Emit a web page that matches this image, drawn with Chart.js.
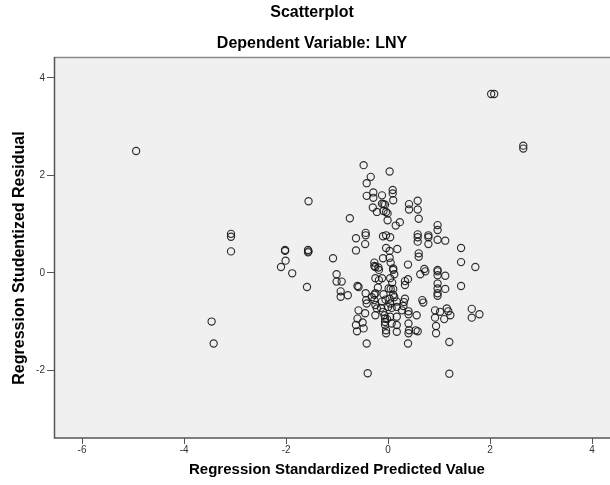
<!DOCTYPE html>
<html><head><meta charset="utf-8">
<script src="https://cdn.jsdelivr.net/npm/chart.js@4/dist/chart.umd.min.js"></script>
<style>html,body{margin:0;padding:0;background:#fff;}canvas{display:block;}</style>
</head><body>
<canvas id="c" width="610" height="485"></canvas>
<script>
const chartTitle = 'Scatterplot';
const chartSubtitle = 'Dependent Variable: LNY';
const xAxisTitle = 'Regression Standardized Predicted Value';
const yAxisTitle = 'Regression Studentized Residual';
const xTicks = [-6, -4, -2, 0, 2, 4];
const yTicks = [-2, 0, 2, 4];

// Regression Standardized Predicted Value
const predicted = [
  -4.94, 2.02, 2.08, 2.65, 2.65, -3.08, -3.08, -3.08, -3.46, -3.42,
  -2.02, -2.02, -2.01, -2.10, -1.88, -1.57, -1.56, -1.57, -1.59, -1.56,
  -0.48, 0.03, -0.34, -0.42, -0.42, -0.29, -0.29, -0.12, 0.09, 0.09,
  0.10, -0.12, -0.09, -0.06, -0.30, -0.22, -0.09, -0.04, -0.01, -0.01,
  -0.75, 0.15, 0.23, -0.44, -0.44, -0.63, -0.45, -0.63, -0.10, -0.04,
  0.04, -0.04, 0.03, 0.18, -1.08, -0.10, 0.03, -0.27, -0.27, -0.19,
  0.05, 0.10,
  0.41, 0.41, 0.58, 0.58, 0.60, 0.97, 0.97, 0.58, 0.58, 0.58,
  0.79, 0.79, 0.79, 0.97, 1.12, 1.43, 1.43, 1.71, 0.60, 0.60,
  0.39, 0.71, 0.97,
  -1.01, -1.01, -0.91, -0.93, -0.93, -0.79, -0.60, -0.58, -0.44, -0.25,
  -0.18, -0.25, -0.18, -0.12, 0.04, 0.10, 0.12, 0.01, 0.05, 0.10,
  -0.09, -0.25, -0.43, -0.42, -0.27, -0.25, -0.22, -0.12, -0.14, 0.03,
  0.04, 0.07, 0.17, 0.17, -0.58, -0.45, -0.25, -0.07, -0.06, -0.06,
  -0.06, -0.04, -0.04, 0.04, 0.07, 0.17, 0.17, 0.17, -0.60, -0.63,
  -0.61, -0.50, -0.48, -0.42, -0.40,
  0.73, 0.63, 0.97, 0.97, 1.12, 1.43, 0.97, 0.97, 0.97, 0.97,
  1.12, 0.33, 0.33, 0.39, 0.33, 0.31, 0.30, 0.67, 0.69, 0.27,
  0.40, 0.40, 0.56, 0.40, 0.41, 0.40, 0.54, 0.58, 0.39, 0.92,
  1.02, 1.15, 1.18, 1.22, 0.92, 1.10, 0.94, 0.94, 1.64, 1.64,
  1.79, 1.20, 1.20,
  -0.27, -0.05, 0.00, -0.10, 0.10, -0.20, 0.08, -0.32, -0.02, 0.12
];

// Regression Studentized Residual
const residual = [
  2.50, 3.67, 3.67, 2.61, 2.55, 0.80, 0.74, 0.44, -1.00, -1.45,
  0.47, 0.45, 0.25, 0.12, -0.01, 0.47, 0.44, 0.42, -0.29, 1.47,
  2.21, 2.08, 1.97, 1.84, 1.58, 1.65, 1.54, 1.59, 1.70, 1.63,
  1.49, 1.42, 1.41, 1.40, 1.34, 1.25, 1.27, 1.25, 1.22, 1.08,
  1.12, 0.97, 1.04, 0.82, 0.77, 0.71, 0.59, 0.46, 0.75, 0.77,
  0.73, 0.51, 0.45, 0.49, 0.30, 0.30, 0.31, 0.21, 0.14, 0.11,
  0.21, 0.09,
  1.41, 1.30, 1.48, 1.30, 1.11, 0.98, 0.88, 0.79, 0.73, 0.64,
  0.77, 0.73, 0.59, 0.68, 0.66, 0.51, 0.22, 0.12, 0.40, 0.33,
  0.17, 0.08, 0.06,
  -0.03, -0.18, -0.18, -0.38, -0.49, -0.46, -0.27, -0.29, -0.42, 0.12,
  0.06, -0.11, -0.15, -0.11, -0.11, 0.06, -0.03, -0.32, -0.33, -0.33,
  -0.44, -0.42, -0.56, -0.63, -0.56, -0.66, -0.73, -0.59, -0.72, -0.53,
  -0.63, -0.72, -0.59, -0.70, -0.77, -0.83, -0.87, -0.87, -0.94, -1.01,
  -1.07, -1.18, -1.24, -0.90, -1.04, -0.90, -1.07, -1.21, -0.94, -1.07,
  -1.20, -1.02, -1.14, -1.45, -2.06,
  0.03, -0.03, 0.03, -0.05, -0.06, -0.27, -0.22, -0.32, -0.42, -0.47,
  -0.33, -0.17, -0.25, -0.13, -0.53, -0.60, -0.68, -0.56, -0.61, -0.77,
  -0.79, -0.85, -0.87, -1.04, -1.18, -1.24, -1.18, -1.20, -1.45, -0.77,
  -0.80, -0.73, -0.79, -0.87, -0.92, -0.95, -1.09, -1.24, -0.74, -0.92,
  -0.85, -1.42, -2.07,
  -0.45, -0.55, -0.70, -0.80, -0.45, -0.30, -0.20, -0.50, -0.95, -0.50
];

const points = predicted.map((x, i) => ({ x: x, y: residual[i] }));
const FONT = '"Liberation Sans", Arial, sans-serif';

const frame = {
  id: 'frame',
  beforeDatasetsDraw(chart) {
    const { ctx, chartArea: a } = chart;
    ctx.save();
    ctx.fillStyle = '#f0f0f0';
    ctx.fillRect(a.left, a.top, a.right - a.left, a.bottom - a.top);
    ctx.restore();
  },
  afterDatasetsDraw(chart) {
    const { ctx, chartArea: a } = chart;
    ctx.save();
    ctx.lineWidth = 1.5;
    ctx.strokeStyle = '#8a8a8a';
    ctx.beginPath();
    ctx.moveTo(a.left, a.top + 0.5);
    ctx.lineTo(a.right, a.top + 0.5);
    ctx.stroke();
    ctx.strokeStyle = '#555';
    ctx.beginPath();
    ctx.moveTo(a.left + 0.5, a.top);
    ctx.lineTo(a.left + 0.5, a.bottom);
    ctx.lineTo(a.right, a.bottom);
    ctx.stroke();
    ctx.fillStyle = '#000';
    ctx.textAlign = 'center';
    ctx.textBaseline = 'middle';
    ctx.font = 'bold 16px ' + FONT;
    ctx.fillText(chartTitle, 312, 13);
    ctx.fillText(chartSubtitle, 312, 44);
    ctx.font = 'bold 15px ' + FONT;
    ctx.fillText(xAxisTitle, 337, 470);
    ctx.translate(20, 258);
    ctx.rotate(-Math.PI / 2);
    ctx.font = 'bold 16px ' + FONT;
    ctx.fillText(yAxisTitle, 0, 0);
    ctx.restore();
  }
};

new Chart(document.getElementById('c'), {
  type: 'scatter',
  data: {
    datasets: [{
      data: points,
      pointRadius: 3.6,
      pointBorderWidth: 1.15,
      pointBorderColor: 'rgba(20,20,20,0.88)',
      pointBackgroundColor: 'rgba(0,0,0,0)',
      pointHoverRadius: 3.6
    }]
  },
  options: {
    responsive: false,
    animation: false,
    devicePixelRatio: 1,
    layout: { autoPadding: false, padding: { top: 57, left: 0, right: 0, bottom: 0 } },
    plugins: { legend: { display: false }, tooltip: { enabled: false }, title: { display: false } },
    scales: {
      x: {
        type: 'linear',
        min: -6.55,
        max: 4.35,
        afterFit: s => { s.height = 47; s.paddingLeft = 0; s.paddingRight = 0; },
        afterBuildTicks: s => { s.ticks = xTicks.map(v => ({ value: v })); },
        grid: { drawOnChartArea: false, drawTicks: true, tickLength: 6, color: '#555', lineWidth: 1 },
        border: { display: false },
        ticks: { autoSkip: false, maxRotation: 0, padding: 0, color: '#333',
                 font: { family: FONT, size: 10 } },
        title: { display: false }
      },
      y: {
        type: 'linear',
        min: -3.39,
        max: 4.43,
        afterFit: s => { s.width = 54; s.paddingTop = 0; s.paddingBottom = 0; },
        afterBuildTicks: s => { s.ticks = yTicks.map(v => ({ value: v })); },
        grid: { drawOnChartArea: false, drawTicks: true, tickLength: 7, color: '#555', lineWidth: 1 },
        border: { display: false },
        ticks: { autoSkip: false, padding: 2, color: '#333',
                 font: { family: FONT, size: 10 } },
        title: { display: false }
      }
    }
  },
  plugins: [frame]
});
</script>
</body></html>
